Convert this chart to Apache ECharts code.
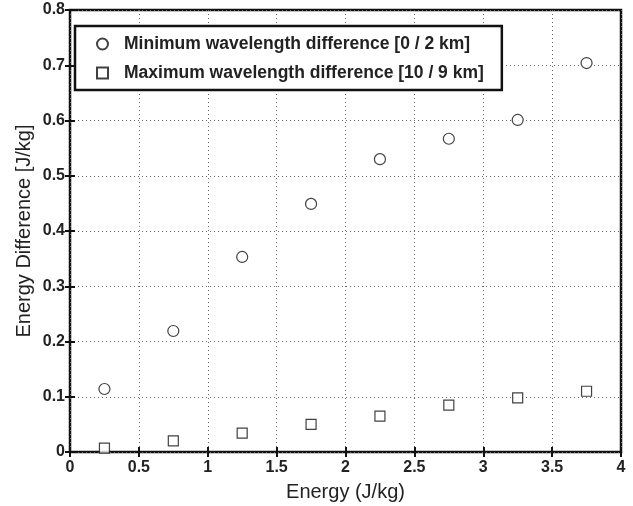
<!DOCTYPE html>
<html>
<head>
<meta charset="utf-8">
<script src="https://cdn.jsdelivr.net/npm/echarts@6/dist/echarts.min.js"></script>
<style>
html,body{margin:0;padding:0;background:#fff;}
#chart{width:633px;height:506px;}
</style>
</head>
<body>
<div id="chart"></div>
<script>
// energy bins (J/kg)
var energy = [0.25, 0.75, 1.25, 1.75, 2.25, 2.75, 3.25, 3.75];
// min wavelength difference [0 / 2 km]
var minDiff = [0.114, 0.219, 0.353, 0.449, 0.530, 0.567, 0.601, 0.704];
// max wavelength difference [10 / 9 km]
var maxDiff = [0.007, 0.020, 0.034, 0.050, 0.065, 0.085, 0.098, 0.110];
var xTicks = [0, 0.5, 1, 1.5, 2, 2.5, 3, 3.5, 4];
var yTicks = [0, 0.1, 0.2, 0.3, 0.4, 0.5, 0.6, 0.7, 0.8];

function pairs(xs, ys){
	var out = [];
	for(var i=0;i<xs.length;i++){
		out.push([xs[i], ys[i]]);
	}
	return out;
}

var labelFont = {fontFamily:'Liberation Sans, Arial', fontWeight:'bold', fontSize:16, color:'#222'};
var titleFont = {fontFamily:'Liberation Sans, Arial', fontSize:20, color:'#222'};

var myChart = echarts.init(document.getElementById('chart'));
var option = {
	animation:false,
	backgroundColor:'#fff',
	grid:{left:70, right:12, top:10, bottom:54, outerBoundsMode:'none', containLabel:false,
		show:true, borderColor:'#111', borderWidth:2.5, backgroundColor:'transparent'},
	legend:{
		orient:'vertical',
		left:75, top:26,
		padding:[9, 18, 8, 21],
		itemGap:11,
		itemWidth:11, itemHeight:11,
		borderColor:'#111', borderWidth:2.5,
		backgroundColor:'#fff',
		textStyle:{fontFamily:'Liberation Sans, Arial', fontWeight:'bold', fontSize:17.5, lineHeight:18, color:'#222', padding:[0,0,0,11]},
		data:['Minimum wavelength difference [0 / 2 km]', 'Maximum wavelength difference [10 / 9 km]']
	},
	xAxis:[{
		type:'value', min:xTicks[0], max:xTicks[xTicks.length-1], interval:0.5,
		name:'Energy (J/kg)', nameLocation:'middle', nameGap:30,
		nameTextStyle:titleFont,
		axisLine:{show:false},
		axisTick:{show:true, inside:true, length:5, lineStyle:{color:'#111', width:2}},
		axisLabel:Object.assign({margin:8}, labelFont),
		splitLine:{show:true, lineStyle:{type:[1,3], color:'#666', width:1}}
	},{
		type:'value', position:'top', min:0, max:4, interval:0.5,
		axisLine:{show:false}, axisLabel:{show:false}, splitLine:{show:false},
		axisTick:{show:true, inside:true, length:5, lineStyle:{color:'#111', width:2}}
	}],
	yAxis:[{
		type:'value', min:yTicks[0], max:yTicks[yTicks.length-1], interval:0.1,
		name:'Energy Difference [J/kg]', nameLocation:'middle', nameGap:36, nameMoveOverlap:false,
		nameTextStyle:titleFont,
		axisLine:{show:false},
		axisTick:{show:true, inside:true, length:5, lineStyle:{color:'#111', width:2}},
		axisLabel:Object.assign({margin:5}, labelFont),
		splitLine:{show:true, lineStyle:{type:[1,3], color:'#666', width:1}}
	},{
		type:'value', position:'right', min:0, max:0.8, interval:0.1,
		axisLine:{show:false}, axisLabel:{show:false}, splitLine:{show:false},
		axisTick:{show:true, inside:true, length:5, lineStyle:{color:'#111', width:2}}
	}],
	series:[{
		name:'Minimum wavelength difference [0 / 2 km]',
		type:'scatter',
		symbol:'circle', symbolSize:11,
		itemStyle:{color:'#fff', borderColor:'#111', borderWidth:1.2},
		data:pairs(energy, minDiff)
	},{
		name:'Maximum wavelength difference [10 / 9 km]',
		type:'scatter',
		symbol:'rect', symbolSize:10,
		itemStyle:{color:'#fff', borderColor:'#111', borderWidth:1.2},
		data:pairs(energy, maxDiff)
	}]
};
myChart.setOption(option);
</script>
</body>
</html>
